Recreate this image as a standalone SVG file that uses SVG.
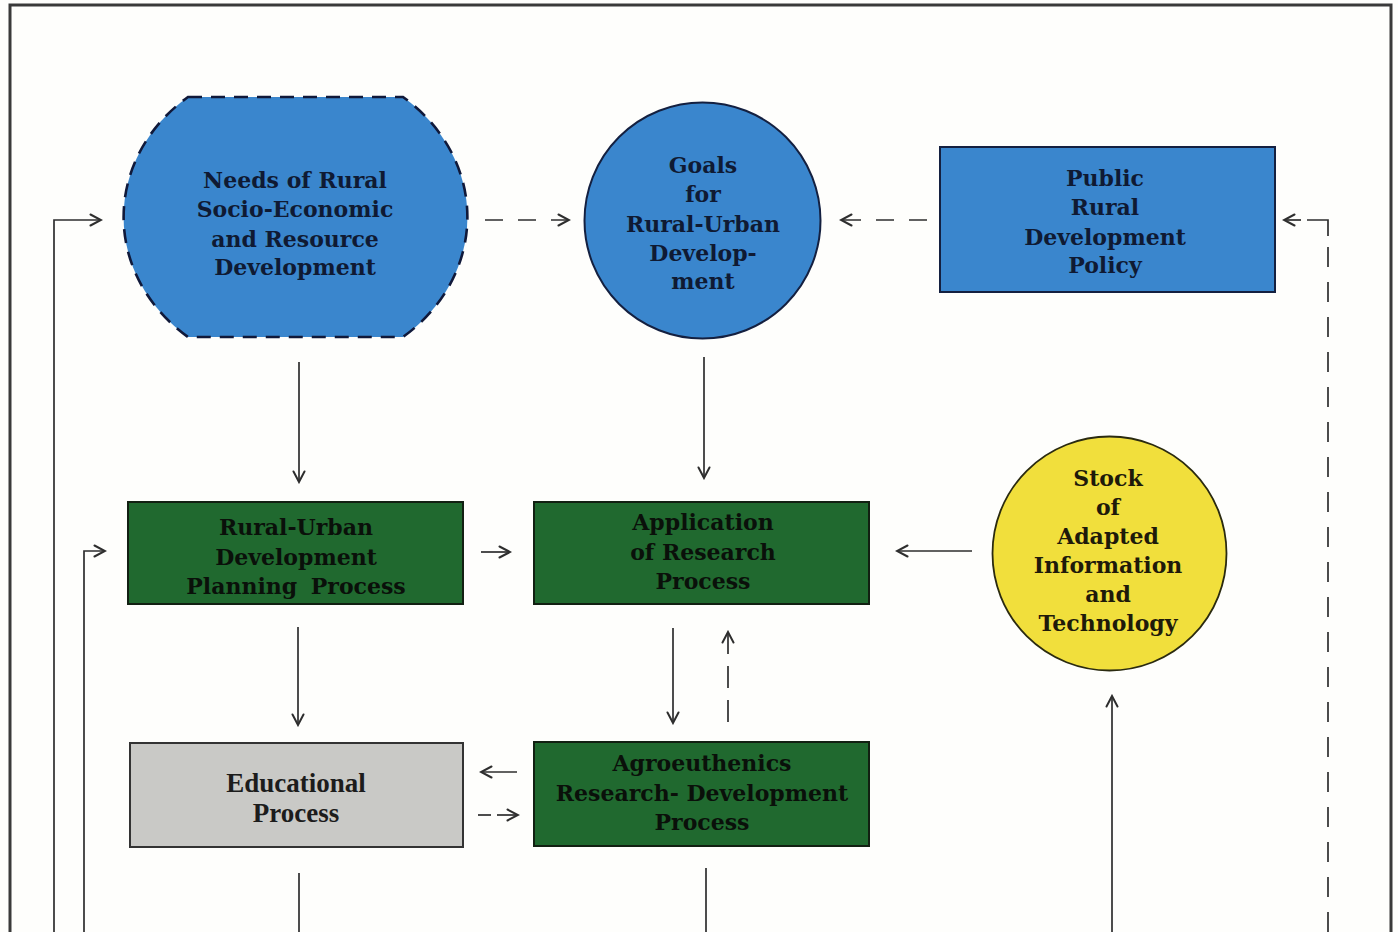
<svg xmlns="http://www.w3.org/2000/svg" width="1398" height="932" viewBox="0 0 1398 932">
  <defs>
    <marker id="arr" viewBox="0 0 14 14" refX="12" refY="7" markerWidth="14" markerHeight="14" markerUnits="userSpaceOnUse" orient="auto">
      <path d="M1.5,1.5 L12,7 L1.5,12.5" fill="none" stroke="#2e2e2e" stroke-width="2" stroke-linecap="round" stroke-linejoin="miter"/>
    </marker>
    <style>
      .lbl { font-family: "DejaVu Serif", "Liberation Serif", serif; font-size: 22px; font-weight: bold; text-anchor: middle; }
      .blueTxt { fill: #0f1a33; }
      .greenTxt { fill: #0a100a; }
      .yellowTxt { fill: #1e1a0a; }
      .grayTxt { fill: #1c1c1c; font-family: "Liberation Serif", "DejaVu Serif", serif; font-size: 27px; }
      .blue { fill: #3a86cd; stroke: #142040; stroke-width: 2; }
      .green { fill: #20692f; stroke: #122012; stroke-width: 2; }
      .gray { fill: #c9c9c6; stroke: #333; stroke-width: 2; }
      .yellow { fill: #f1df3c; stroke: #2a2a10; stroke-width: 1.8; }
      .ln { fill: none; stroke: #2e2e2e; stroke-width: 1.7; }
      .dash { stroke-dasharray: 18 15; }
    </style>
  </defs>

  <rect width="1398" height="932" fill="#fefefc"/>

  <!-- open frame -->
  <path d="M10,932 V5 H1391 V932" fill="none" stroke="#3a3a3a" stroke-width="3"/>

  <g id="needs">
    <path d="M188,97 H403 A172.5,154 0 0 1 403,337 H188 A172.5,154 0 0 1 188,97 Z" fill="#3a86cd" stroke="#10193a" stroke-width="2.6" stroke-dasharray="14 9"/>
    <text class="lbl blueTxt" x="295" y="188">Needs of Rural</text>
    <text class="lbl blueTxt" x="295" y="217">Socio-Economic</text>
    <text class="lbl blueTxt" x="295" y="247">and Resource</text>
    <text class="lbl blueTxt" x="295" y="275">Development</text>
  </g>

  <g id="goals">
    <circle class="blue" cx="702.5" cy="220.5" r="118"/>
    <text class="lbl blueTxt" x="703" y="173">Goals</text>
    <text class="lbl blueTxt" x="703" y="202">for</text>
    <text class="lbl blueTxt" x="703" y="232">Rural-Urban</text>
    <text class="lbl blueTxt" x="703" y="261">Develop-</text>
    <text class="lbl blueTxt" x="703" y="289">ment</text>
  </g>

  <g id="policy">
    <rect class="blue" x="940" y="147" width="335" height="145"/>
    <text class="lbl blueTxt" x="1105" y="186">Public</text>
    <text class="lbl blueTxt" x="1105" y="215">Rural</text>
    <text class="lbl blueTxt" x="1105" y="245">Development</text>
    <text class="lbl blueTxt" x="1105" y="273">Policy</text>
  </g>

  <g id="planning">
    <rect class="green" x="128" y="502" width="335" height="102"/>
    <text class="lbl greenTxt" x="296" y="535">Rural-Urban</text>
    <text class="lbl greenTxt" x="296" y="565">Development</text>
    <text class="lbl greenTxt" x="296" y="594" word-spacing="6">Planning Process</text>
  </g>

  <g id="application">
    <rect class="green" x="534" y="502" width="335" height="102"/>
    <text class="lbl greenTxt" x="703" y="530">Application</text>
    <text class="lbl greenTxt" x="703" y="560">of Research</text>
    <text class="lbl greenTxt" x="703" y="589">Process</text>
  </g>

  <g id="stock">
    <circle class="yellow" cx="1109.5" cy="553.5" r="117"/>
    <text class="lbl yellowTxt" x="1108" y="486">Stock</text>
    <text class="lbl yellowTxt" x="1108" y="515">of</text>
    <text class="lbl yellowTxt" x="1108" y="544">Adapted</text>
    <text class="lbl yellowTxt" x="1108" y="573">Information</text>
    <text class="lbl yellowTxt" x="1108" y="602">and</text>
    <text class="lbl yellowTxt" x="1108" y="631">Technology</text>
  </g>

  <g id="educational">
    <rect class="gray" x="130" y="743" width="333" height="104"/>
    <text class="lbl grayTxt" x="296" y="792">Educational</text>
    <text class="lbl grayTxt" x="296" y="822">Process</text>
  </g>

  <g id="agroeuthenics">
    <rect class="green" x="534" y="742" width="335" height="104"/>
    <text class="lbl greenTxt" x="702" y="771">Agroeuthenics</text>
    <text class="lbl greenTxt" x="702" y="801">Research- Development</text>
    <text class="lbl greenTxt" x="702" y="830">Process</text>
  </g>

  <g id="connectors">
    <!-- top row -->
    <line class="ln dash" x1="485" y1="220" x2="569" y2="220" marker-end="url(#arr)"/>
    <line class="ln dash" x1="927" y1="220" x2="841" y2="220" marker-end="url(#arr)"/>
    <!-- down into second row -->
    <line class="ln" x1="299" y1="362" x2="299" y2="482" marker-end="url(#arr)"/>
    <line class="ln" x1="704" y1="357" x2="704" y2="478" marker-end="url(#arr)"/>
    <!-- second row -->
    <line class="ln" x1="481" y1="552" x2="510" y2="552" marker-end="url(#arr)"/>
    <line class="ln" x1="972" y1="551" x2="897" y2="551" marker-end="url(#arr)"/>
    <!-- down into third row -->
    <line class="ln" x1="298" y1="627" x2="298" y2="725" marker-end="url(#arr)"/>
    <line class="ln" x1="673" y1="628" x2="673" y2="723" marker-end="url(#arr)"/>
    <line class="ln" x1="728" y1="722" x2="728" y2="632" stroke-dasharray="22 12" marker-end="url(#arr)"/>
    <!-- between educational and agroeuthenics -->
    <line class="ln" x1="517" y1="772" x2="481" y2="772" marker-end="url(#arr)"/>
    <line class="ln" x1="478" y1="815" x2="491" y2="815"/>
    <line class="ln" x1="497" y1="815" x2="518" y2="815" marker-end="url(#arr)"/>
    <!-- feedback loops from below -->
    <path class="ln" d="M54,932 V220 H101" marker-end="url(#arr)"/>
    <path class="ln" d="M84,932 V551 H105" marker-end="url(#arr)"/>
    <line class="ln" x1="299" y1="873" x2="299" y2="932"/>
    <line class="ln" x1="706" y1="868" x2="706" y2="932"/>
    <line class="ln" x1="1112" y1="932" x2="1112" y2="696" marker-end="url(#arr)"/>
    <line class="ln" x1="1328" y1="932" x2="1328" y2="244" stroke-dasharray="20 15"/>
    <path class="ln" d="M1328,236 V220 H1307"/>
    <line class="ln" x1="1301" y1="220" x2="1284" y2="220" marker-end="url(#arr)"/>
  </g>
</svg>
